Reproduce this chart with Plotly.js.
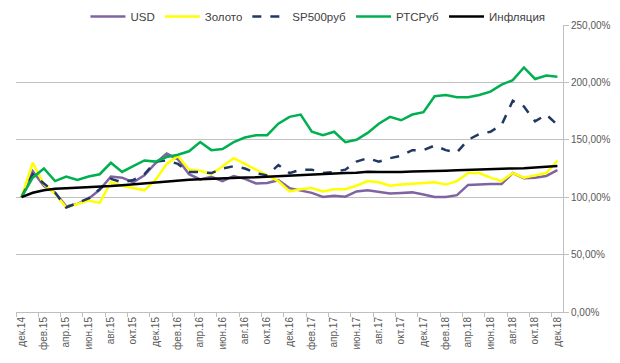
<!DOCTYPE html>
<html>
<head>
<meta charset="utf-8">
<script src="https://cdn.plot.ly/plotly-3.0.1.min.js"></script>
<style>html,body{margin:0;padding:0;background:#fff;}#chart{width:620px;height:363px;}</style>
</head>
<body>
<div id="chart"></div>
<script>
const months = ["дек.14","янв.15","фев.15","мар.15","апр.15","май.15","июн.15","июл.15","авг.15","сен.15","окт.15","ноя.15",
"дек.15","янв.16","фев.16","мар.16","апр.16","май.16","июн.16","июл.16","авг.16","сен.16","окт.16","ноя.16",
"дек.16","янв.17","фев.17","мар.17","апр.17","май.17","июн.17","июл.17","авг.17","сен.17","окт.17","ноя.17",
"дек.17","янв.18","фев.18","мар.18","апр.18","май.18","июн.18","июл.18","авг.18","сен.18","окт.18","ноя.18","дек.18"];

const usd = [100,122.6,109.7,104,92,94.2,98.7,106.5,118,117,113,119,129.6,138,133,120,115.5,117.7,114,118.5,116,112,112.4,114.8,
107.9,105.7,103.8,100.2,101.3,100.5,105,106,104.6,103.2,103.7,104.2,102.4,100.1,100.1,101.8,110.7,111.3,111.6,111.6,121,116.6,116.9,118.5,123.5];

const gold = [100,130,111,103,91,94,97,95,113,110,108,106,115,129,136,124,123,120,127,134,129,124,119,114,
105,107,108,105,107,107,110,114,113,110,111,111.5,112,113,111,114,121,121,117,114,121,117,119,121,132];

const sp500 = [100,120,112,104,91,95,99,107,116,113,115,120,131,132,129,122,122,121,125,127,125,121,119,128,
121,124,124,121,122,124,131,134,131,134,136,141,141,145,141,139,150,155,157,163,184,179,166,172,163];

const rts = [100,117,125,114,118,115,118,120,130,122,127,132,131,135,137,140,148,141,142,148,152,154,154,164,
170,172,157,154,157,148,150,156,164,170,167,172,174,188,189,187,187,189,192,198,202,213,203,206,205];

const infl = [100,103.9,106.1,107.4,107.9,108.3,108.5,109.3,109.7,110.4,111.2,112.0,112.9,113.9,114.6,115.1,115.6,116.1,116.6,117.1,117.2,117.4,117.9,118.4,
119.0,119.7,120.2,120.3,120.7,121.1,121.2,122.1,121.9,121.8,122.0,122.3,122.4,122.7,123.0,123.4,123.8,124.2,124.8,125.1,125.1,125.3,125.8,126.3,127.2];

const seriesNames = ["USD","Золото","SP500руб","РТСРуб","Инфляция"];
const yTicks = [0,50,100,150,200,250];
const yTickText = ["0,00%","50,00%","100,00%","150,00%","200,00%","250,00%"];

const idx = months.map((m,i)=>i);
const labelIdx = idx.filter(i=>i%2===0);
const labelText = labelIdx.map(i=>months[i]);
const boundaries = [];
for (let i=0;i<=months.length;i+=2) boundaries.push(i-0.5);

const traces = [
  {y:usd, name:seriesNames[0], line:{color:'#8064A2', width:2.5}},
  {y:gold, name:seriesNames[1], line:{color:'#FFFF00', width:2.5}},
  {y:sp500, name:seriesNames[2], line:{color:'#1F3864', width:2.5, dash:'dash'}},
  {y:rts, name:seriesNames[3], line:{color:'#00B050', width:2.5}},
  {y:infl, name:seriesNames[4], line:{color:'#000000', width:2.5}}
].map(t=>Object.assign({x:idx, type:'scatter', mode:'lines', hoverinfo:'skip'}, t));

const layout = {
  width:620, height:363,
  margin:{l:16, r:57, t:25, b:51, autoexpand:false},
  paper_bgcolor:'#fff', plot_bgcolor:'#fff',
  font:{family:'Liberation Sans, Arial, sans-serif', size:10, color:'#595959'},
  showlegend:true,
  legend:{orientation:'h', x:0.552, xanchor:'center', y:1.03, yanchor:'middle',
          font:{size:11.5, color:'#404040'}, itemwidth:35, tracegroupgap:0, bgcolor:'rgba(0,0,0,0)'},
  xaxis:{
    range:[-0.5, 48.5], tickmode:'array', tickvals:labelIdx, ticktext:labelText,
    tickangle:-90, ticks:'', showgrid:false, zeroline:false,
    showline:true, linecolor:'#BFBFBF', linewidth:1,
    tickfont:{size:10, color:'#595959'},
    minor:{tickmode:'array', tickvals:boundaries, ticks:'outside', ticklen:4, tickcolor:'#BFBFBF', showgrid:false}
  },
  yaxis:{
    side:'right', range:[0,250], tickmode:'array', tickvals:yTicks, ticktext:yTickText,
    showgrid:true, gridcolor:'#C0C0C0', gridwidth:1, zeroline:false,
    showline:true, linecolor:'#BFBFBF', linewidth:1,
    ticks:'outside', ticklen:5, tickcolor:'#BFBFBF',
    tickfont:{size:10, color:'#595959'}
  }
};

Plotly.newPlot('chart', traces, layout, {displayModeBar:false, staticPlot:true});
</script>
</body>
</html>
